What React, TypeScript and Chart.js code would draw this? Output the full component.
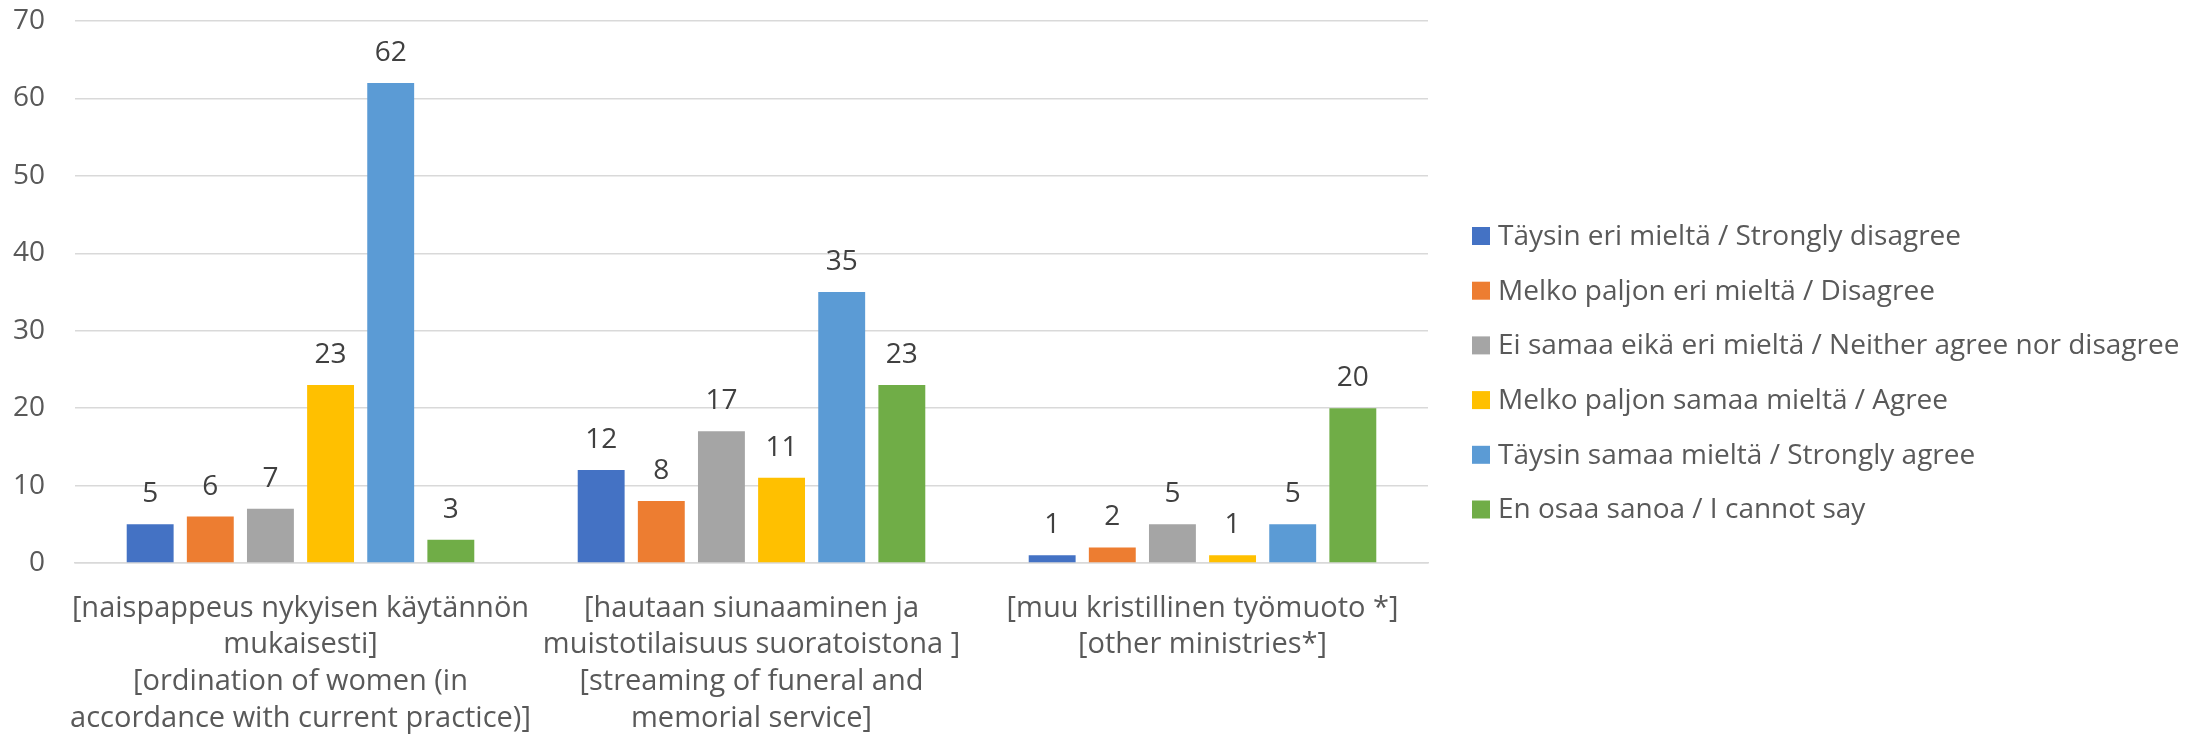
import React, { useEffect, useRef } from "react";
import { Chart, registerables } from "chart.js";

Chart.register(...registerables);

// ---- data ----
const categories: string[][] = [
  ["[naispappeus nykyisen käytännön", "mukaisesti]", "[ordination of women (in", "accordance with current practice)]"],
  ["[hautaan siunaaminen ja", "muistotilaisuus suoratoistona ]", "[streaming of funeral and", "memorial service]"],
  ["[muu kristillinen työmuoto *]", "[other ministries*]"],
];

const seriesNames = [
  "Täysin eri mieltä / Strongly disagree",
  "Melko paljon eri mieltä / Disagree",
  "Ei samaa eikä eri mieltä / Neither agree nor disagree",
  "Melko paljon samaa mieltä / Agree",
  "Täysin samaa mieltä / Strongly agree",
  "En osaa sanoa / I cannot say",
];

const stronglyDisagree = [5, 12, 1];
const disagree = [6, 8, 2];
const neither = [7, 17, 5];
const agree = [23, 11, 1];
const stronglyAgree = [62, 35, 5];
const cannotSay = [3, 23, 20];

const seriesValues = [stronglyDisagree, disagree, neither, agree, stronglyAgree, cannotSay];
const seriesColors = ["#4472C4", "#ED7D31", "#A5A5A5", "#FFC000", "#5B9BD5", "#70AD47"];

const yMin = 0;
const yMax = 70;
const yStep = 10;

// ---- layout constants ----
const W = 2201;
const H = 737;
const FONT = "'Open Sans', sans-serif";
const TEXT = "#595959";
const GRID = "#D9D9D9";

const LEGEND_X = 1472;
const LEGEND_Y0 = 236;
const LEGEND_PITCH = 54.7;
const LEGEND_BOX = 18;

const valueLabelPlugin = {
  id: "valueLabels",
  afterDatasetsDraw(chart: any) {
    const ctx = chart.ctx;
    ctx.save();
    ctx.font = `28px ${FONT}`;
    ctx.fillStyle = "#404040";
    ctx.textAlign = "center";
    ctx.textBaseline = "middle";
    chart.data.datasets.forEach((ds: any, i: number) => {
      const meta = chart.getDatasetMeta(i);
      meta.data.forEach((bar: any, j: number) => {
        ctx.fillText(String(ds.data[j]), bar.x, bar.y - 30);
      });
    });
    ctx.restore();
  },
};

const sideLegendPlugin = {
  id: "sideLegend",
  afterDraw(chart: any) {
    const ctx = chart.ctx;
    ctx.save();
    ctx.font = `28px ${FONT}`;
    ctx.textAlign = "left";
    ctx.textBaseline = "middle";
    chart.data.datasets.forEach((ds: any, i: number) => {
      const cy = LEGEND_Y0 + i * LEGEND_PITCH;
      ctx.fillStyle = ds.backgroundColor;
      ctx.fillRect(LEGEND_X, cy - LEGEND_BOX / 2, LEGEND_BOX, LEGEND_BOX);
      ctx.fillStyle = TEXT;
      ctx.fillText(ds.label, LEGEND_X + LEGEND_BOX + 8, cy + 1);
    });
    ctx.restore();
  },
};

export default function App() {
  const canvasRef = useRef<HTMLCanvasElement | null>(null);

  useEffect(() => {
    if (!canvasRef.current) return;
    const chart = new Chart(canvasRef.current, {
      type: "bar",
      data: {
        labels: categories,
        datasets: seriesNames.map((name, i) => ({
          label: name,
          data: seriesValues[i],
          backgroundColor: seriesColors[i],
          borderWidth: 0,
          categoryPercentage: 0.8,
          barPercentage: 0.78,
        })),
      },
      options: {
        responsive: false,
        animation: false,
        devicePixelRatio: 1,
        layout: { padding: { left: 0, right: W - 1428, top: 21, bottom: 0 } },
        plugins: {
          legend: { display: false },
          tooltip: { enabled: false },
        },
        scales: {
          x: {
            grid: { display: false, drawTicks: false },
            border: { display: true, color: GRID, width: 1.5 },
            ticks: {
              color: TEXT,
              font: { family: FONT, size: 29, lineHeight: 1.265 },
              padding: 27,
              autoSkip: false,
              maxRotation: 0,
              minRotation: 0,
            },
            afterFit: (s: any) => {
              s.height = H - 563;
            },
          },
          y: {
            min: yMin,
            max: yMax,
            grid: {
              color: GRID,
              lineWidth: 1.5,
              drawTicks: true,
              tickLength: 30,
              tickColor: "rgba(0,0,0,0)",
            },
            border: { display: false },
            ticks: {
              stepSize: yStep,
              color: TEXT,
              font: { family: FONT, size: 28 },
              padding: 0,
            },
            afterFit: (s: any) => {
              s.width = 75;
            },
          },
        },
      },
      plugins: [valueLabelPlugin, sideLegendPlugin],
    });
    return () => chart.destroy();
  }, []);

  return (
    <div style={{ position: "fixed", left: 0, top: 0, width: W, height: H, background: "#fff" }}>
      <canvas ref={canvasRef} width={W} height={H} style={{ display: "block", width: W, height: H }} />
    </div>
  );
}
